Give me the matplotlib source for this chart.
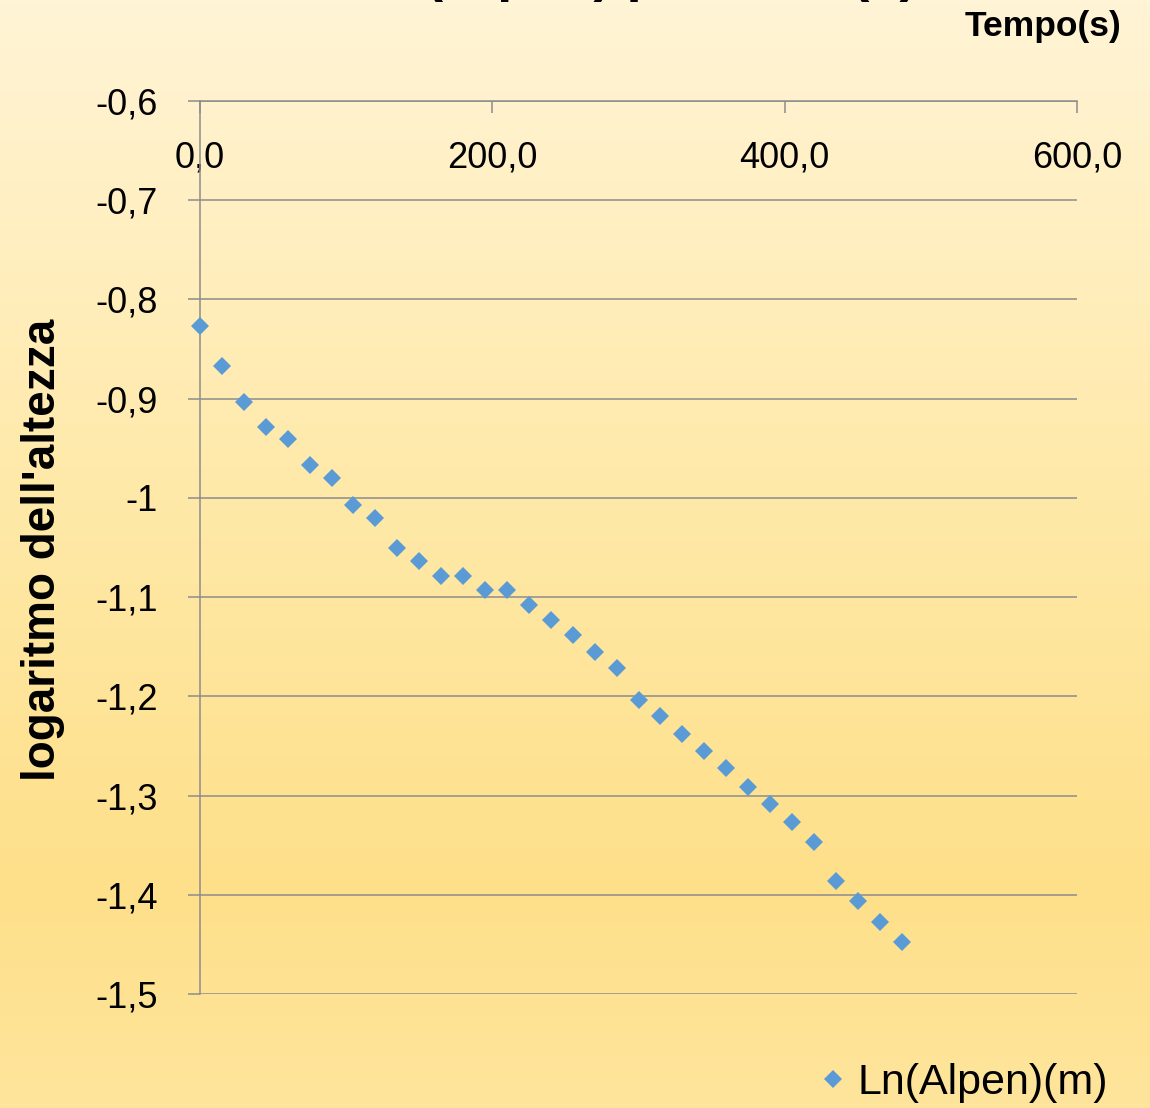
import numpy as np
import matplotlib
matplotlib.use('Agg')
import matplotlib.pyplot as plt
from matplotlib.colors import LinearSegmentedColormap

# Tempo (s) e logaritmo dell'altezza della colonna di schiuma
tempo = [0, 15, 30, 45, 60, 75, 90, 105, 120, 135, 150, 165, 180, 195, 210,
         225, 240, 255, 270, 285, 300, 315, 330, 345, 360, 375, 390, 405,
         420, 435, 450, 465, 480]
ln_alpen = [-0.827, -0.867, -0.903, -0.929, -0.941, -0.967, -0.980, -1.007,
            -1.020, -1.050, -1.064, -1.079, -1.079, -1.093, -1.093, -1.108,
            -1.123, -1.138, -1.155, -1.171, -1.204, -1.220, -1.238, -1.255,
            -1.272, -1.291, -1.309, -1.327, -1.347, -1.386, -1.406, -1.427,
            -1.448]

x_ticks = [0, 200, 400, 600]
x_tick_labels = ['0,0', '200,0', '400,0', '600,0']
y_ticks = [-0.6, -0.7, -0.8, -0.9, -1.0, -1.1, -1.2, -1.3, -1.4, -1.5]
y_tick_labels = ['-0,6', '-0,7', '-0,8', '-0,9', '-1', '-1,1', '-1,2',
                 '-1,3', '-1,4', '-1,5']

title = 'Ln(Alpen) per Time(s)'
x_label = 'Tempo(s)'
y_label = "logaritmo dell'altezza"
series_label = 'Ln(Alpen)(m)'

plt.rcParams['font.family'] = ['Liberation Sans', 'DejaVu Sans']

grid_col = '#8c8c8c'
marker_col = '#5b9bd5'

fig = plt.figure(figsize=(11.5, 11.08), dpi=100)

# soft cream-to-yellow background
bg = fig.add_axes([0, 0, 1, 1], zorder=-10)
cmap = LinearSegmentedColormap.from_list(
    'crema', [(0.0, '#fff4d6'), (0.45, '#ffe9a8'),
              (0.8, '#fee08a'), (1.0, '#ffe59c')])
grad = np.linspace(0, 1, 256).reshape(-1, 1)
bg.imshow(grad, aspect='auto', cmap=cmap, extent=[0, 1, 0, 1], origin='upper')
bg.set_axis_off()

ax = fig.add_axes([200 / 1150, 1 - 994 / 1108, 877 / 1150, 893 / 1108])
ax.patch.set_alpha(0)

ax.plot(tempo, ln_alpen, linestyle='none', marker='D', markersize=9.2,
        color=marker_col, markeredgewidth=0, label=series_label,
        clip_on=False, zorder=3)

ax.set_xlim(0, 600)
ax.set_ylim(-1.5, -0.6)

# x axis sits at the top, labels hang below the line
ax.xaxis.tick_top()
ax.set_xticks(x_ticks)
ax.set_xticklabels(x_tick_labels)
ax.tick_params(axis='x', direction='in', length=8.6, width=1.1,
               color=grid_col, pad=-54, labelsize=26)

ax.set_yticks(y_ticks)
ax.set_yticklabels(y_tick_labels)
ax.tick_params(axis='y', direction='out', length=8.6, width=1.1,
               color=grid_col, pad=21.6, labelsize=26)

ax.yaxis.grid(True, color=grid_col, linewidth=1.1)
ax.set_axisbelow(True)

for side in ['right', 'bottom']:
    ax.spines[side].set_visible(False)
for side in ['left', 'top']:
    ax.spines[side].set_color(grid_col)
    ax.spines[side].set_linewidth(1.1)

ax.xaxis.set_label_position('top')
ax.set_xlabel(x_label, fontsize=25.5, fontweight='bold', ha='right',
              va='center')
ax.xaxis.set_label_coords(1.051, 1.083)

ax.set_ylabel(y_label, fontsize=33, fontweight='bold', va='center')
ax.yaxis.set_label_coords(-0.179, 0.497)

# title runs off the top edge, only its descenders show
ax.set_title(title, fontsize=39, fontweight='bold', y=1.1142)

fig.legend(loc='center left', bbox_to_anchor=(820 / 1150, 1 - 1083 / 1108),
           frameon=False, fontsize=31, borderpad=0, borderaxespad=0,
           handlelength=0.6, handletextpad=0.28, numpoints=1)

fig.savefig('out.png', dpi=100)
